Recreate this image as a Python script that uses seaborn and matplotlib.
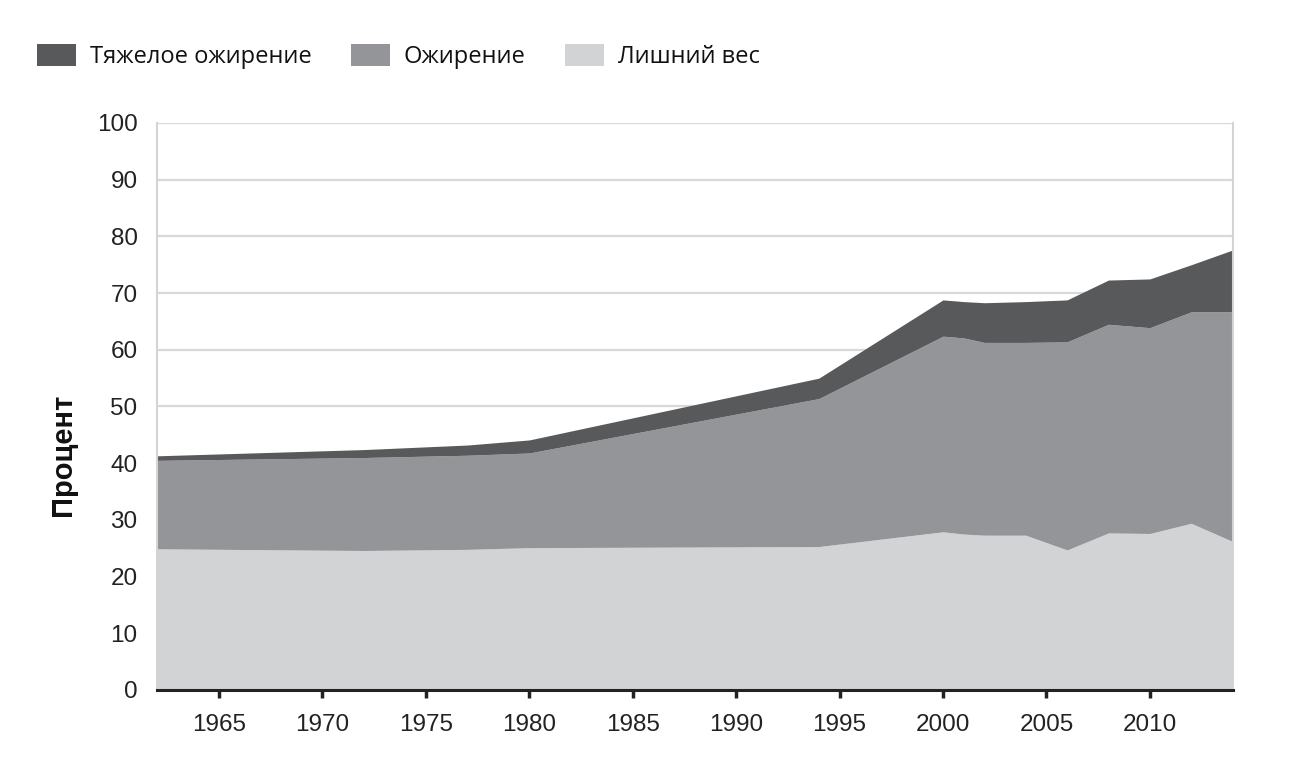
import matplotlib
matplotlib.use("Agg")
import matplotlib.pyplot as plt
import seaborn as sns
import numpy as np
from matplotlib.patches import Patch

years = [1962, 1972, 1977, 1980, 1994, 2000, 2001, 2002, 2004, 2006, 2008, 2010, 2012, 2014]
overweight = [24.9, 24.6, 24.8, 25.1, 25.3, 27.9, 27.5, 27.3, 27.3, 24.7, 27.7, 27.6, 29.4, 26.2]
obese = [15.6, 16.4, 16.6, 16.7, 26.1, 34.5, 34.6, 34.0, 34.0, 36.7, 36.8, 36.3, 37.3, 40.5]
severe = [0.8, 1.4, 1.8, 2.3, 3.6, 6.4, 6.4, 7.0, 7.2, 7.4, 7.8, 8.6, 8.3, 10.9]

labels = ["Тяжелое ожирение", "Ожирение", "Лишний вес"]
colors = {"Тяжелое ожирение": "#58595b", "Ожирение": "#939598", "Лишний вес": "#d1d3d4"}
x_ticks = [1965, 1970, 1975, 1980, 1985, 1990, 1995, 2000, 2005, 2010]
y_ticks = list(range(0, 101, 10))

sns.set_theme(style="whitegrid")
plt.rcParams["font.family"] = ["Liberation Sans", "DejaVu Sans"]

fig = plt.figure(figsize=(12.92, 7.77), dpi=100)
ax = fig.add_axes([0.1215, 0.112, 0.8325, 0.7297])

ax.stackplot(years, overweight, obese, severe,
             colors=[colors["Лишний вес"], colors["Ожирение"], colors["Тяжелое ожирение"]],
             linewidth=0, zorder=2)

ax.set_xlim(1962, 2014)
ax.set_ylim(0, 100)
ax.set_xticks(x_ticks)
ax.set_yticks(y_ticks)
ax.grid(axis="y", color="#d9d9d9", linewidth=1.6, zorder=0)
ax.grid(axis="x", visible=False)
ax.set_axisbelow(True)

ax.spines["top"].set_visible(False)
ax.spines["left"].set_color("#d4d4d4")
ax.spines["left"].set_linewidth(1.5)
ax.spines["right"].set_color("#d4d4d4")
ax.spines["right"].set_linewidth(1.5)
ax.spines["bottom"].set_color("#222222")
ax.spines["bottom"].set_linewidth(2.2)
ax.spines["bottom"].set_zorder(5)

ax.tick_params(axis="x", which="major", direction="out", length=6, width=2.5,
               color="#222222", bottom=True, pad=11, labelsize=17.5, labelcolor="#222222")
ax.tick_params(axis="y", which="major", length=0, pad=14, labelsize=17.5, labelcolor="#222222")

ax.set_ylabel("Процент", fontsize=21, fontweight="bold", color="#111111")
ax.yaxis.set_label_coords(-0.0744, 0.414)
ax.set_xlabel("")

handles = [Patch(facecolor=colors[l], edgecolor="none") for l in labels]
leg = fig.legend(handles, labels, loc="center left", bbox_to_anchor=(0.0286, 0.927),
                 ncol=3, frameon=False, handlelength=1.65, handleheight=1.0,
                 handletextpad=0.6, columnspacing=1.65, borderpad=0, borderaxespad=0,
                 prop={"family": ["Open Sans", "DejaVu Sans"], "size": 17})
for t in leg.get_texts():
    t.set_color("#111111")

fig.savefig("out.png", dpi=100, facecolor="white")
